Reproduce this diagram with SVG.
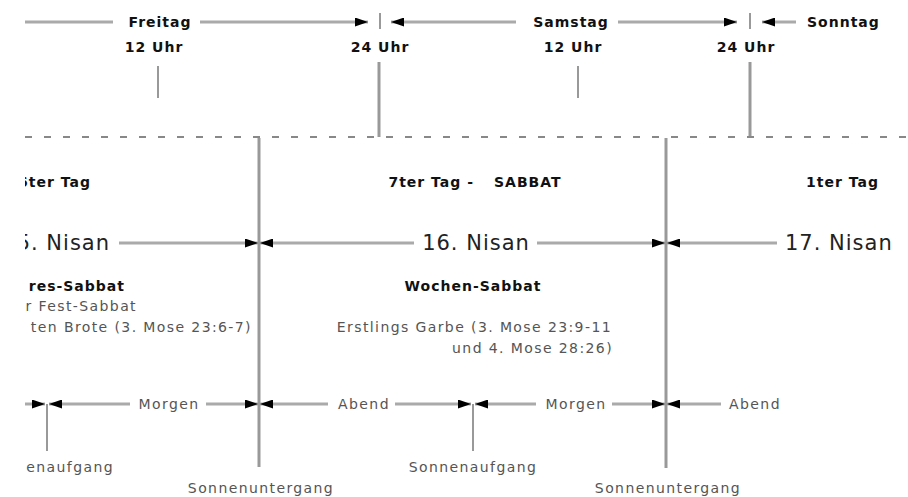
<svg xmlns="http://www.w3.org/2000/svg" width="908" height="497" viewBox="0 0 908 497">
<defs>
<clipPath id="view"><rect x="25" y="0" width="883" height="497"/></clipPath>
<marker id="ah" markerUnits="userSpaceOnUse" markerWidth="13" markerHeight="9" refX="13" refY="4.5" orient="auto">
<path d="M0,0 L13,4.5 L0,9 z" fill="#000"/>
</marker>
<style>
.ln{stroke:#aaa;stroke-width:3;fill:none}
.ar{stroke:#aaa;stroke-width:3;fill:none;marker-end:url(#ah)}
.tk{stroke:#999;stroke-width:2}
.vl{stroke:#999;stroke-width:3}
.dash{stroke:#888;stroke-width:2;stroke-dasharray:7 12}
text{font-family:"DejaVu Sans","Liberation Sans",sans-serif}
.b{font-size:14px;font-weight:bold;fill:#111;letter-spacing:1px}
.r{font-size:14px;fill:#555;letter-spacing:1.4px}
.n{font-size:21px;fill:#222;letter-spacing:1px}
.c{text-anchor:middle}
.e{text-anchor:end}
</style>
</defs>
<rect width="908" height="497" fill="#fff"/>
<g clip-path="url(#view)">
<g id="connectors">
<line class="ln" x1="25" y1="22" x2="113" y2="22"/>
<line class="ar" x1="200" y1="22" x2="368" y2="22"/>
<line class="tk" x1="380" y1="13" x2="380" y2="29"/>
<line class="ar" x1="516" y1="22" x2="391" y2="22"/>
<line class="ar" x1="618" y1="22" x2="737" y2="22"/>
<line class="tk" x1="750" y1="13" x2="750" y2="29"/>
<line class="ar" x1="796" y1="22" x2="762" y2="22"/>
<line class="tk" x1="158" y1="66" x2="158" y2="98"/>
<line class="tk" x1="578" y1="66" x2="578" y2="98"/>
<line class="vl" x1="379" y1="62" x2="379" y2="137"/>
<line class="vl" x1="750" y1="62" x2="750" y2="137"/>
<line class="dash" x1="25" y1="137" x2="908" y2="137"/>
<line class="vl" x1="259" y1="138" x2="259" y2="467"/>
<line class="vl" x1="666" y1="138" x2="666" y2="468"/>
<line class="ar" x1="119" y1="243" x2="258" y2="243"/>
<line class="ar" x1="414" y1="243" x2="260" y2="243"/>
<line class="ar" x1="537" y1="243" x2="665" y2="243"/>
<line class="ar" x1="777" y1="243" x2="667" y2="243"/>
<line class="ar" x1="20" y1="404" x2="45" y2="404"/>
<line class="tk" x1="47" y1="404" x2="47" y2="451"/>
<line class="ar" x1="130" y1="404" x2="49" y2="404"/>
<line class="ar" x1="206" y1="404" x2="258" y2="404"/>
<line class="ar" x1="328" y1="404" x2="260" y2="404"/>
<line class="ar" x1="395" y1="404" x2="471" y2="404"/>
<line class="tk" x1="473" y1="404" x2="473" y2="451"/>
<line class="ar" x1="536" y1="404" x2="475" y2="404"/>
<line class="ar" x1="612" y1="404" x2="665" y2="404"/>
<line class="ar" x1="721" y1="404" x2="667" y2="404"/>
</g>
<g id="freitag"><text class="b c" x="160" y="27">Freitag</text></g>
<g id="samstag"><text class="b c" x="571" y="27">Samstag</text></g>
<g id="sonntag"><text class="b" x="807" y="27">Sonntag</text></g>
<g id="fr12"><text class="b c" x="154" y="52">12 Uhr</text></g>
<g id="fr24"><text class="b c" x="380" y="52">24 Uhr</text></g>
<g id="sa12"><text class="b c" x="573" y="52">12 Uhr</text></g>
<g id="sa24"><text class="b c" x="746" y="52">24 Uhr</text></g>
<g id="tag6"><text class="b" x="18" y="187">6ter Tag</text></g>
<g id="tag7"><text class="b c" x="475" y="187">7ter Tag -<tspan dx="20">SABBAT</tspan></text></g>
<g id="tag1"><text class="b" x="806" y="187">1ter Tag</text></g>
<g id="nisan15"><text class="n e" x="110" y="250">5. Nisan</text></g>
<g id="nisan16"><text class="n c" x="476" y="250">16. Nisan</text></g>
<g id="nisan17"><text class="n" x="785" y="250">17. Nisan</text></g>
<g id="fest">
<text class="b e" x="125" y="291">res-Sabbat</text>
<text class="r e" x="137" y="311">r Fest-Sabbat</text>
<text class="r e" x="252" y="332">ten Brote (3. Mose 23:6-7)</text>
</g>
<g id="wochen">
<text class="b c" x="473" y="291">Wochen-Sabbat</text>
<text class="r e" x="612" y="332">Erstlings Garbe (3. Mose 23:9-11</text>
<text class="r e" x="613" y="353">und 4. Mose 28:26)</text>
</g>
<g id="morgen1"><text class="r c" x="169" y="409">Morgen</text></g>
<g id="abend1"><text class="r c" x="364" y="409">Abend</text></g>
<g id="morgen2"><text class="r c" x="576" y="409">Morgen</text></g>
<g id="abend2"><text class="r c" x="755" y="409">Abend</text></g>
<g id="aufgang1"><text class="r e" x="114" y="472">nenaufgang</text></g>
<g id="aufgang2"><text class="r c" x="473" y="472">Sonnenaufgang</text></g>
<g id="untergang1"><text class="r c" x="261" y="493">Sonnenuntergang</text></g>
<g id="untergang2"><text class="r c" x="668" y="493">Sonnenuntergang</text></g>
</g>
</svg>
